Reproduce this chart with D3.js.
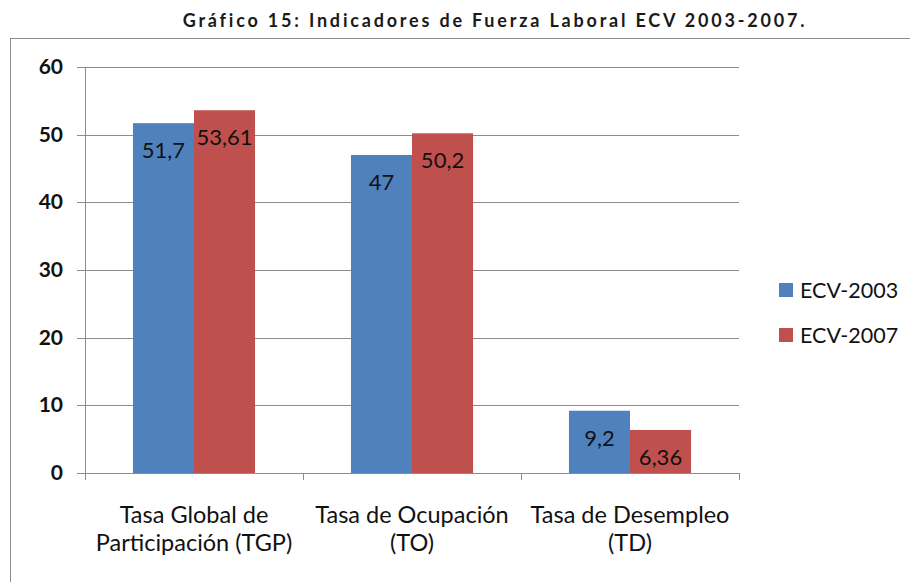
<!DOCTYPE html>
<html>
<head>
<meta charset="utf-8">
<script src="https://cdn.jsdelivr.net/npm/d3@7"></script>
<style>
  body { margin: 0; background: #fff; }
  svg { font-family: Lato, "Open Sans", sans-serif; }
</style>
</head>
<body>
<svg id="chart" width="910" height="582"></svg>
<script>
// chart data
const categories = [
  ['Tasa Global de', 'Participación (TGP)'],
  ['Tasa de Ocupación', '(TO)'],
  ['Tasa de Desempleo', '(TD)']
];
const seriesNames = ['ECV-2003', 'ECV-2007'];
const ecv2003 = [51.7, 47, 9.2];
const ecv2007 = [53.61, 50.2, 6.36];
const yTicks = [0, 10, 20, 30, 40, 50, 60];

const colors = ['#4F81BD', '#C0504D'];
const series = [ecv2003, ecv2007];

const svg = d3.select('#chart');

// outer frame
svg.append('rect')
  .attr('x', 10.5).attr('y', 38.5)
  .attr('width', 905).attr('height', 560)
  .attr('fill', 'none')
  .attr('stroke', '#8c8c8c')
  .attr('stroke-width', 1);

// title
svg.append('text')
  .attr('x', 495).attr('y', 27)
  .attr('text-anchor', 'middle')
  .style('font-size', '18px')
  .style('font-weight', 'bold')
  .style('letter-spacing', '2.8px')
  .attr('fill', '#1a1a1a')
  .text('Gráfico 15: Indicadores de Fuerza Laboral ECV 2003-2007.');

const margin = { left: 85, top: 67, right: 739, bottom: 473 };

const x0 = d3.scaleBand()
  .domain(d3.range(categories.length))
  .range([margin.left, margin.right])
  .paddingInner(0.44)
  .paddingOuter(0.22);

const x1 = d3.scaleBand()
  .domain(d3.range(series.length))
  .range([0, x0.bandwidth()]);

const y = d3.scaleLinear().domain([0, 60]).range([margin.bottom, margin.top]);

// gridlines
svg.append('g')
  .selectAll('line')
  .data(yTicks)
  .join('line')
  .attr('x1', margin.left - 8).attr('x2', margin.right)
  .attr('y1', d => Math.round(y(d)) + 0.5).attr('y2', d => Math.round(y(d)) + 0.5)
  .attr('stroke', '#8c8c8c')
  .attr('stroke-width', 1);

// y axis labels
svg.append('g')
  .selectAll('text')
  .data(yTicks)
  .join('text')
  .attr('x', 63)
  .attr('y', d => y(d) + 7)
  .attr('text-anchor', 'end')
  .style('font-size', '21px')
  .style('font-weight', 'bold')
  .attr('fill', '#111')
  .text(d => d);

// y axis line
svg.append('line')
  .attr('x1', margin.left + 0.5).attr('x2', margin.left + 0.5)
  .attr('y1', margin.top).attr('y2', margin.bottom + 7)
  .attr('stroke', '#8c8c8c');

// category separators on x axis
const step = (margin.right - margin.left) / categories.length;
svg.append('g')
  .selectAll('line')
  .data(d3.range(1, categories.length + 1))
  .join('line')
  .attr('x1', d => Math.round(margin.left + d * step) + 0.5)
  .attr('x2', d => Math.round(margin.left + d * step) + 0.5)
  .attr('y1', margin.bottom).attr('y2', margin.bottom + 7)
  .attr('stroke', '#8c8c8c');

// bars
const groups = svg.append('g')
  .selectAll('g')
  .data(categories.map((c, i) => i))
  .join('g')
  .attr('transform', i => `translate(${x0(i)},0)`);

groups.selectAll('rect')
  .data(i => series.map((s, k) => ({ k, v: s[i] })))
  .join('rect')
  .attr('x', d => x1(d.k))
  .attr('width', x1.bandwidth())
  .attr('y', d => y(d.v))
  .attr('height', d => y(0) - y(d.v))
  .attr('fill', d => colors[d.k]);

groups.selectAll('text')
  .data(i => series.map((s, k) => ({ k, v: s[i] })))
  .join('text')
  .attr('x', d => x1(d.k) + x1.bandwidth() / 2)
  .attr('y', d => y(d.v) + 35)
  .attr('text-anchor', 'middle')
  .style('font-size', '22px')
  .attr('fill', '#111')
  .text(d => String(d.v).replace('.', ','));

// redraw baseline over bars
svg.append('line')
  .attr('x1', margin.left).attr('x2', margin.right + 1)
  .attr('y1', margin.bottom + 0.5).attr('y2', margin.bottom + 0.5)
  .attr('stroke', '#8c8c8c');

// category labels
const catLabels = svg.append('g')
  .selectAll('text')
  .data(categories)
  .join('text')
  .attr('text-anchor', 'middle')
  .style('font-size', '23.5px')
  .attr('fill', '#111');

catLabels.selectAll('tspan')
  .data((d, i) => d.map(t => ({ t, i })))
  .join('tspan')
  .attr('x', d => x0(d.i) + x0.bandwidth() / 2)
  .attr('y', (d, j) => 523 + j * 28)
  .text(d => d.t);

// legend
const legend = svg.append('g')
  .selectAll('g')
  .data(seriesNames)
  .join('g')
  .attr('transform', (d, i) => `translate(779,${283 + i * 45})`);

legend.append('rect')
  .attr('width', 14).attr('height', 14)
  .attr('fill', (d, i) => colors[i]);

legend.append('text')
  .attr('x', 21).attr('y', 14.5)
  .style('font-size', '21.5px')
  .attr('fill', '#111')
  .text(d => d);
</script>
</body>
</html>
